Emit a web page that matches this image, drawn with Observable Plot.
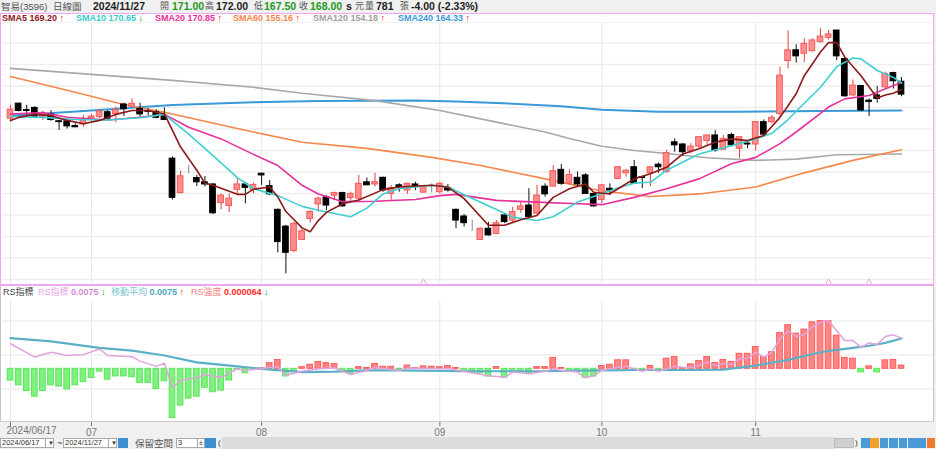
<!DOCTYPE html>
<html><head><meta charset="utf-8">
<script src="https://cdn.jsdelivr.net/npm/d3@7"></script>
<script src="https://cdn.jsdelivr.net/npm/@observablehq/plot@0.6"></script>
<style>
html,body{margin:0;padding:0;background:#f0f0f0;}
#root{position:relative;width:936px;height:449px;overflow:hidden;background:#f0f0f0;font-family:"Liberation Sans","Noto Sans CJK TC",sans-serif;}
.a{position:absolute;white-space:nowrap;line-height:1;}
.lg{font-size:9px;font-weight:bold;}
.up{color:#ff1010;font-weight:bold;font-size:9px;}
.dn{color:#109010;font-weight:bold;font-size:9px;}
.box{position:absolute;background:#fff;border:1px solid #a9a9a9;box-sizing:border-box;font-size:7.5px;color:#333;line-height:8px;padding-left:1px;}
.btn{position:absolute;background:#3c8fd0;box-sizing:border-box;}
svg{position:absolute;left:0;}
</style></head><body><div id="root"></div>
<script>
// ---- candles (index 0 = 2024/06/17, last = 2024/11/27) ----
const open  = [162.4,165.9,164.4,164.9,162.75,163.4,161.8,161.8,160.7,161.05,162.5,162.75,163.9,163.5,165.7,165.2,164.7,164.1,163.9,163.1,153.1,145.1,150.35,148.6,147.6,147.1,142.75,142.1,145.85,147.1,145.85,149.6,146.7,141.2,137.3,131.6,134.2,139.1,142.45,144.1,144.5,145.1,143.9,143.8,147.6,147.1,148.65,144.9,146.9,145.7,147.1,145.2,146.5,145.3,146.3,141.2,139.65,138.7,134.2,136.8,135.6,139.9,138.7,141.2,142.2,140.3,146.6,146.6,150.5,147.3,148.65,149.2,144.9,143.5,146.1,148.4,149.7,151.1,148.8,149.7,151.7,150.0,156.9,156.4,154.85,155.9,157.2,158.5,155.2,158.6,155.4,156.6,156.4,161.6,161.6,163.5,175.8,178.3,177.5,178.1,180.2,181.2,182.9,176.3,167.8,170.0,166.6,167.8,169.7,173.0,171.0];
const high  = [165.5,166.0,165.5,165.2,164.1,164.3,161.9,162.1,161.2,163.1,163.4,164.45,164.3,165.1,166.0,167.0,166.0,164.7,164.45,164.9,153.5,150.2,151.5,149.2,148.95,147.3,144.9,144.9,148.6,147.6,147.4,149.7,148.0,141.4,137.6,138.3,136.8,141.05,144.15,144.5,145.3,145.3,145.3,149.2,148.6,149.7,148.8,146.9,147.25,147.4,147.6,146.6,147.25,147.6,147.1,141.4,140.1,138.75,137.0,138.3,138.7,140.3,141.8,143.0,146.1,146.9,147.25,151.5,151.75,150.5,150.0,149.6,145.3,147.1,147.25,151.3,150.6,152.7,149.0,151.2,152.1,155.0,157.7,156.6,156.6,158.2,158.6,159.6,158.5,159.0,158.2,157.0,161.6,162.1,163.1,174.4,182.8,179.6,181.0,181.0,183.3,182.9,182.9,176.7,171.4,170.1,167.0,169.9,173.2,173.2,172.0];
const low   = [161.6,164.0,163.1,162.4,162.0,161.8,159.65,160.0,160.3,160.4,161.8,162.4,162.1,161.4,162.9,165.1,162.75,163.1,162.4,162.0,143.5,144.9,149.6,146.6,146.5,140.1,141.2,140.6,144.9,142.6,144.9,146.9,144.5,131.2,126.3,131.2,134.1,138.1,140.7,141.0,143.4,141.8,142.9,143.4,146.9,146.5,145.3,143.4,145.3,144.8,145.7,145.1,145.1,144.9,145.3,136.8,137.2,136.2,134.2,135.1,135.5,138.0,138.1,140.4,139.1,140.1,144.15,146.5,146.9,146.9,146.5,144.8,141.8,142.6,144.5,148.2,148.8,147.1,146.1,146.6,149.7,149.7,154.6,153.6,154.2,155.4,156.2,154.6,155.0,155.9,153.1,155.4,154.85,158.5,161.2,162.8,174.0,175.3,175.5,177.9,180.0,180.7,175.9,167.4,167.6,164.1,162.9,166.0,169.3,169.3,167.5];
const close = [164.5,164.2,164.2,162.8,163.5,162.1,161.6,160.6,160.4,161.97,162.9,164.1,162.4,164.45,164.6,165.85,163.4,164.0,162.6,162.1,144.0,149.0,150.35,147.6,147.1,140.4,144.5,143.8,147.1,146.3,147.0,149.2,144.8,133.7,131.2,137.95,136.2,140.7,143.8,142.2,145.1,142.0,144.9,147.25,146.9,147.6,145.7,146.25,146.5,147.25,146.6,146.5,146.5,147.25,145.7,138.7,138.1,138.7,136.8,135.25,138.1,138.35,140.7,142.0,139.5,144.5,144.8,150.2,147.25,149.3,147.1,144.9,142.0,146.9,145.7,151.1,150.3,147.3,148.6,151.1,151.1,154.4,156.2,154.6,155.9,158.1,158.5,155.0,157.7,156.2,158.1,156.4,161.6,158.7,162.6,172.4,178.3,176.9,179.8,180.6,181.5,182.0,176.9,167.6,170.1,164.3,166.3,167.0,172.8,171.1,168.0];

// ---- moving averages: [day index, value] ----
const sma5 = [[0,162.0],[1,162.7],[3,163.4],[5,163.1],[7,162.0],[9,161.2],[11,162.0],[13,163.4],[15,164.3],[17,164.3],[19,163.5],[21,155.8],[23,150.4],[24,147.4],[25,146.9],[28,144.8],[29,144.8],[30,146.0],[32,146.5],[33,144.2],[34,140.8],[36,137.0],[37,136.1],[38,138.7],[39,140.6],[41,142.6],[43,143.5],[46,145.9],[48,146.5],[52,146.9],[54,146.5],[56,143.8],[59,137.6],[61,137.6],[63,138.9],[65,139.9],[67,144.1],[69,146.1],[71,147.2],[72,145.3],[74,144.9],[75,146.1],[77,148.4],[79,149.6],[81,151.1],[83,154.2],[85,155.4],[87,156.9],[89,157.7],[91,157.3],[93,158.5],[95,162.7],[97,168.2],[98,172.4],[100,177.9],[101,180.1],[102,180.1],[103,176.7],[105,172.4],[107,167.2],[108,167.9],[109,168.3],[110,169.2]];
const sma10 = [[0,162.9],[4,162.7],[8,162.2],[12,162.1],[16,162.6],[19,163.4],[22,158.8],[25,153.8],[28,148.7],[30,146.1],[33,144.5],[36,142.0],[38,141.1],[42,139.6],[44,141.6],[46,144.9],[48,146.1],[52,146.9],[54,146.5],[56,144.7],[60,141.3],[62,139.5],[65,138.7],[67,139.6],[70,143.0],[72,144.3],[75,146.3],[77,147.4],[79,147.6],[81,150.4],[85,154.2],[89,156.1],[92,157.7],[94,159.0],[96,162.2],[98,166.0],[100,169.7],[102,174.5],[104,176.5],[105,176.3],[107,173.6],[109,172.0],[110,170.65]];
const sma20 = [[0,163.5],[4,163.8],[7,162.75],[12,162.1],[16,162.75],[19,163.4],[22,160.4],[26,157.7],[30,154.1],[33,151.5],[36,146.9],[38,144.9],[41,143.1],[45,143.2],[50,143.6],[53,144.5],[55,144.8],[60,143.4],[65,143.0],[70,142.6],[73,142.4],[77,144.1],[81,146.1],[85,148.4],[89,151.9],[92,153.4],[95,156.6],[97,159.3],[101,165.1],[103,167.0],[106,167.8],[110,170.85]];
const sma60 = [[0,172.2],[7,169.0],[14,165.7],[19,163.9],[28,160.1],[36,156.9],[44,155.5],[52,153.4],[58,151.5],[65,148.8],[73,145.6],[79,144.3],[85,144.9],[92,146.5],[98,149.8],[104,152.7],[110,155.16]];
const sma120 = [[0,174.1],[10,172.7],[20,171.3],[30,169.7],[36,168.3],[45,166.6],[53,164.3],[60,161.6],[66,159.3],[69,157.8],[73,156.0],[77,155.0],[81,154.3],[86,153.3],[92,152.7],[97,153.0],[102,154.0],[110,154.18]];
const sma240 = [[0,163.1],[10,164.3],[20,165.6],[30,166.2],[38,166.5],[50,166.6],[55,166.4],[62,165.9],[68,165.3],[73,164.5],[80,164.0],[90,164.0],[100,164.2],[110,164.33]];

// ---- RS indicator panel ----
const rsLine = [[0,0.0062],[3,0.0029],[5,0.0041],[7,0.0033],[9,0.0035],[11,0.0049],[12,0.0033],[15,0.0030],[16,0.0019],[18,0.0006],[19,0.0014],[20,-0.0047],[21,-0.0029],[23,-0.0022],[24,-0.0014],[26,-0.0022],[28,0.0000],[29,-0.0004],[31,0.0000],[32,0.0004],[33,0.0004],[34,-0.0016],[36,-0.0006],[38,0.0000],[40,0.0002],[42,-0.0014],[44,-0.0004],[45,0.0003],[48,-0.0004],[49,0.0002],[53,0.0000],[54,0.0001],[56,-0.0006],[59,-0.0017],[61,-0.0021],[62,-0.0008],[64,-0.0012],[66,-0.0006],[67,0.0000],[68,-0.0004],[70,-0.0008],[71,-0.0022],[72,-0.0017],[73,-0.0004],[75,0.0004],[76,0.0006],[78,-0.0006],[79,0.0000],[80,-0.0006],[82,0.0006],[83,0.0004],[84,0.0003],[85,0.0008],[86,0.0016],[87,0.0008],[88,0.0013],[89,0.0011],[90,0.0025],[91,0.0026],[92,0.0041],[93,0.0029],[94,0.0041],[95,0.0074],[96,0.0094],[97,0.0080],[98,0.0084],[99,0.0104],[100,0.0115],[101,0.0119],[102,0.0094],[103,0.0070],[104,0.0070],[105,0.0053],[106,0.0064],[107,0.0060],[108,0.0080],[109,0.0084],[110,0.0076]];
const rsMA = [[0,0.0076],[5,0.0068],[11,0.0052],[15,0.0045],[19,0.0033],[23,0.0016],[28,0.0006],[31,0.0000],[36,-0.0008],[40,-0.0007],[44,-0.0004],[48,-0.0004],[56,-0.0006],[65,-0.0006],[73,-0.0004],[78,-0.0003],[84,-0.0003],[88,-0.0002],[92,0.0008],[96,0.0022],[100,0.0041],[102,0.0047],[104,0.0052],[106,0.0057],[108,0.0064],[110,0.0075]];
const rsStrength = [-0.0029,-0.0041,-0.0055,-0.0069,-0.0055,-0.0041,-0.0044,-0.0051,-0.0041,-0.0033,
 -0.0023,-0.0007,-0.0027,-0.0019,-0.0019,-0.0021,-0.0035,-0.0035,-0.0050,-0.0031,
 -0.0122,-0.0091,-0.0074,-0.0069,-0.0047,-0.0058,-0.0054,-0.0029,-0.0003,-0.0011,
 -0.0001,0.0001,0.0014,0.0022,-0.0019,-0.0007,0.0004,0.0010,0.0017,0.0014,
 0.0012,-0.0006,-0.0012,0.0004,0.0002,0.0012,0.0005,0.0005,-0.0002,0.0008,
 0.0002,0.0006,0.0005,0.0004,0.0007,0.0002,-0.0008,-0.0011,-0.0011,-0.0019,
 0.0004,-0.0022,-0.0008,-0.0008,-0.0012,0.0004,0.0004,0.0027,0.0002,-0.0006,
 -0.0008,-0.0022,-0.0019,0.0007,0.0010,0.0021,0.0021,-0.0002,-0.0006,0.0007,
 -0.0006,0.0025,0.0029,0.0002,0.0011,0.0019,0.0029,0.0014,0.0022,0.0017,
 0.0037,0.0037,0.0054,0.0029,0.0041,0.0089,0.0108,0.0087,0.0097,0.0115,
 0.0118,0.0118,0.0082,0.0027,0.0025,-0.0009,0.0006,-0.0009,0.0021,0.0022,
 0.0008];

// ---- axes / grids ----
const priceGrid = [125,130,135,140,145,150,155,160,165,170,175,180];
const rsGrid = [0.0118,0.0034,-0.0050];
const tickIdx = [0,10,31,53,73,92];
const tickLabels = ["2024/06/17","07","08","09","10","11"];
const markerIdx = [51,101,106];

const header = [
  ["智易(3596)",1,"#555","normal",9.5],["日線圖",53,"#555","normal",9.5],
  ["2024/11/27",93,"#222","bold",10.5],["開",160,"#555","normal",9],["171.00",172,"#1f9a1f","bold",10.5],
  ["高",205,"#555","normal",9],["172.00",216,"#222","bold",10.5],["低",254,"#555","normal",9],
  ["167.50",264,"#1f9a1f","bold",10.5],["收",299,"#555","normal",9],["168.00",310,"#1f9a1f","bold",10.5],
  ["s",346,"#222","bold",10.5],["元",355,"#555","normal",9],["量",365,"#555","normal",9],
  ["781",376,"#222","bold",10.5],["張",400,"#555","normal",9],["-4.00 (-2.33%)",411,"#222","bold",10.5]
];
const maLegend = [
  ["SMA5","169.20","up",2,"#8b1a1a"],["SMA10","170.65","dn",76,"#33cccc"],["SMA20","170.85","up",155,"#e8309a"],
  ["SMA60","155.16","up",233,"#f5884a"],["SMA120","154.18","up",313,"#a0a0a0"],["SMA240","164.33","up",398,"#3a9ad8"]
];
const maColors = {sma5:"#8b1a1a",sma10:"#3ed0d0",sma20:"#e8309a",sma60:"#f5884a",sma120:"#a8a8a8",sma240:"#3a9ad8"};

const root = document.getElementById("root");
function el(tag, cls, style, text){const e=document.createElement(tag); if(cls) e.className=cls; Object.assign(e.style,style||{}); if(text!=null) e.textContent=text; root.appendChild(e); return e;}

// header
header.forEach(([t,x,c,w,fs])=>el("div","a",{left:x+"px",top:(fs<10?2:1)+"px",color:c,fontWeight:w,fontSize:fs+"px"},t));

// panel backgrounds
el("div",null,{position:"absolute",left:"0px",top:"13px",width:"934px",height:"273px",background:"#fff"});
el("div",null,{position:"absolute",left:"0px",top:"286px",width:"934px",height:"136px",background:"#fff"});

const candles = open.map((o,i)=>({i,o,h:high[i],l:low[i],c:close[i]}));
const dir = d => d.c>d.o ? "up" : d.c<d.o ? "dn" : "eq";
const bodyFill = {up:"#ff8c8c",dn:"#000000",eq:"#888888"};
const bodyStroke = {up:"#f25a5a",dn:"#000000",eq:"#888888"};
const wickCol = {up:"#f03c3c",dn:"#111111",eq:"#888888"};
const font = '"Liberation Sans","Noto Sans CJK TC",sans-serif';
const maLine = (data,color,w) => Plot.line(data,{x:d=>d[0],y:d=>d[1],stroke:color,strokeWidth:w,strokeLinejoin:"round"});

const price = Plot.plot({
  width:936,height:272,marginLeft:1.9,marginRight:2.6,marginTop:9,marginBottom:0,
  x:{type:"linear",domain:[-1,114],axis:null},
  y:{domain:[123.6,184.77],axis:null},
  style:{background:"transparent",overflow:"visible",fontFamily:font},
  marks:[
    Plot.ruleY(priceGrid,{stroke:"#eeeeee",strokeWidth:1.5}),
    Plot.ruleX(tickIdx,{stroke:"#e8e8e8"}),
    maLine(sma240,maColors.sma240,2),
    maLine(sma120,maColors.sma120,1.6),
    maLine(sma60,maColors.sma60,1.6),
    Plot.ruleX(candles,{x:"i",y1:"l",y2:"h",stroke:d=>wickCol[dir(d)],strokeWidth:1}),
    Plot.rect(candles,{x1:d=>d.i-0.35,x2:d=>d.i+0.35,y1:"o",y2:"c",fill:d=>bodyFill[dir(d)],stroke:d=>bodyStroke[dir(d)],strokeWidth:1}),
    maLine(sma20,maColors.sma20,1.6),
    maLine(sma10,maColors.sma10,1.6),
    maLine(sma5,maColors.sma5,1.6),
    Plot.dot(markerIdx,{x:d=>d,frameAnchor:"bottom",dy:-2.5,symbol:"triangle",r:2.6,stroke:"#f2a4e8",fill:"#fff",strokeWidth:1})
  ]
});
price.style.top="13px";
root.appendChild(price);

const bars = rsStrength.map((v,i)=>({i,v}));
const rs = Plot.plot({
  width:936,height:152,marginLeft:1.9,marginRight:2.6,marginTop:15,marginBottom:16,
  x:{type:"linear",domain:[-1,114],ticks:tickIdx,tickFormat:(d)=>{const k=tickIdx.indexOf(d);return k>0?tickLabels[k]:"";},tickSize:5,tickPadding:2,label:null},
  y:{domain:[-0.01304,0.0169],axis:null},
  style:{background:"transparent",overflow:"visible",fontFamily:font,fontSize:"10px",color:"#777"},
  marks:[
    Plot.ruleY(rsGrid,{stroke:"#efefef",strokeWidth:1.5}),
    Plot.ruleX(tickIdx,{stroke:"#e8e8e8"}),
    Plot.rect(bars,{x1:d=>d.i-0.35,x2:d=>d.i+0.35,y1:0,y2:"v",fill:d=>d.v>=0?"#ff8585":"#7ef27e",stroke:d=>d.v>=0?"#ff5c5c":"#5ee35e",strokeWidth:1}),
    Plot.line(rsMA,{x:d=>d[0],y:d=>d[1],stroke:"#5cb0c6",strokeWidth:2.2,strokeLinejoin:"round"}),
    Plot.line(rsLine,{x:d=>d[0],y:d=>d[1],stroke:"#e2a2dc",strokeWidth:1.5,strokeLinejoin:"round"}),
    Plot.text([tickLabels[0]],{x:tickIdx[0],frameAnchor:"bottom",dy:12,dx:-4,textAnchor:"start",fill:"#777",fontSize:10})
  ]
});
rs.style.top="285px";
root.appendChild(rs);

// frames
el("div",null,{position:"absolute",left:"0px",top:"13px",width:"934px",height:"273px",boxSizing:"border-box",border:"1px solid #f0a6f0",borderBottom:"2px solid #f0a6f0"});
el("div",null,{position:"absolute",left:"1px",top:"22px",width:"932px",height:"1px",background:"#f1f1f1"});
el("div",null,{position:"absolute",left:"0px",top:"286px",width:"934px",height:"136px",boxSizing:"border-box",borderLeft:"1px solid #c4c4c4",borderRight:"1px solid #c4c4c4",borderBottom:"1px solid #d3c9c9"});

// MA legend
maLegend.forEach(([n,v,a,x,c])=>{
  const s=el("div","a lg",{left:x+"px",top:"14px",color:c},n+" "+v+" ");
  const ar=document.createElement("span"); ar.className=a; ar.textContent=a==="up"?"↑":"↓"; s.appendChild(ar);
});
// RS legend
el("div","a",{left:"3px",top:"288px",fontSize:"9px",color:"#444"},"RS指標");
[["RS指標","0.0075","dn",38,"#eaa8e6","#d48ad2"],["移動平均","0.0075","up",111,"#7cc4d4","#4aa6c0"],["RS強度","0.000064","dn",191,"#ff8080","#ff2a2a"]].forEach(([n,v,a,x,c1,c2])=>{
  const s=el("div","a",{left:x+"px",top:"288px",fontSize:"9px",color:c1},n+" ");
  const b=document.createElement("span"); b.style.color=c2; b.style.fontWeight="bold"; b.textContent=v+" "; s.appendChild(b);
  const ar=document.createElement("span"); ar.className=a; ar.textContent=a==="up"?"↑":"↓"; s.appendChild(ar);
});

// bottom toolbar
el("div",null,{position:"absolute",left:"222px",top:"437px",width:"612px",height:"12px",background:"#dcdcdc"});
el("div","box",{left:"0px",top:"438px",width:"46px",height:"10px"},"2024/06/17");
el("div","box",{left:"45px",top:"438px",width:"9px",height:"10px",fontSize:"6px",paddingLeft:"2px"},"▼");
el("div","a",{left:"57px",top:"439px",fontSize:"9px",color:"#333"},"~");
el("div","box",{left:"63px",top:"438px",width:"46px",height:"10px"},"2024/11/27");
el("div","box",{left:"108px",top:"438px",width:"9px",height:"10px",fontSize:"6px",paddingLeft:"2px"},"▼");
el("div","btn",{left:"118px",top:"438px",width:"10px",height:"10px"});
el("div","a",{left:"135px",top:"439px",fontSize:"9.5px",color:"#555"},"保留空間");
el("div","box",{left:"176px",top:"438px",width:"22px",height:"10px"},"3");
el("div","box",{left:"197px",top:"438px",width:"8px",height:"10px",fontSize:"7px"},"±");
el("div","btn",{left:"205px",top:"438px",width:"11px",height:"10px"});
el("div","a",{left:"218px",top:"439px",fontSize:"8px",color:"#333"},"(");
el("div",null,{position:"absolute",left:"834px",top:"438px",width:"20px",height:"10px",background:"#cfcfcf",border:"1px solid #bbb",boxSizing:"border-box"});
el("div","a",{left:"855px",top:"439px",fontSize:"8px",color:"#333"},")");
["#4a9ad8","#f0a030","#4a9ad8","#4a9ad8","#4a9ad8","#4a9ad8","#4a9ad8","#f07a30"].forEach((c,k)=>{
  el("div","btn",{left:(861+k*9.4)+"px",top:"438px",width:"8.6px",height:"10px",background:c});
});
</script></body></html>
